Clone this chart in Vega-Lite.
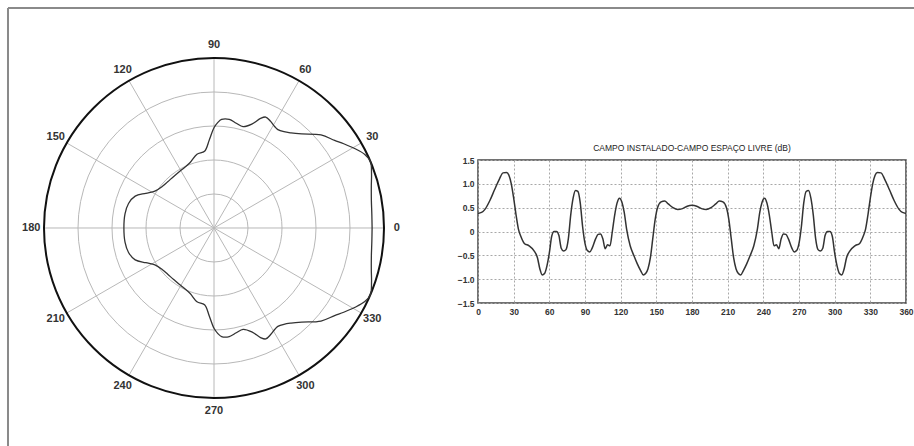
{
  "$schema": "https://vega.github.io/schema/vega-lite/v6.json",
  "padding": {"left": 6, "top": 7, "right": 0, "bottom": 0},
  "background": "white",
  "bounds": "flush",
  "center": true,
  "spacing": 94,
  "config": {"font": "Liberation Sans"},
  "hconcat": [
    {
      "width": 340,
      "height": 347,
      "view": {"stroke": null},
      "layer": [
        {
          "data": {"values": [{"a": 0}, {"a": 30}, {"a": 60}, {"a": 90}, {"a": 120}, {"a": 150}]},
          "transform": [
            {"calculate": "cos(datum.a * PI / 180)", "as": "cx"},
            {"calculate": "sin(datum.a * PI / 180)", "as": "cy"},
            {"calculate": "-datum.cx", "as": "nx"},
            {"calculate": "-datum.cy", "as": "ny"}
          ],
          "mark": {"type": "rule", "stroke": "#b8b8b8", "strokeWidth": 1},
          "encoding": {
            "x": {"field": "cx", "type": "quantitative", "scale": {"domain": [-1, 1], "nice": false, "zero": false}, "axis": null},
            "y": {"field": "cy", "type": "quantitative", "scale": {"domain": [-1.0412, 1], "nice": false, "zero": false}, "axis": null},
            "x2": {"field": "nx"},
            "y2": {"field": "ny"}
          }
        },
        {
          "data": {"values": [{"r": 0.2}, {"r": 0.4}, {"r": 0.6}, {"r": 0.8}, {"r": 1.0}]},
          "transform": [
            {"calculate": "0 * datum.r", "as": "ox"},
            {"calculate": "datum.r == 1 ? 'outer' : 'ring'", "as": "kind"}
          ],
          "mark": {"type": "point", "shape": "circle", "filled": false, "opacity": 1},
          "encoding": {
            "x": {"field": "ox", "type": "quantitative", "axis": null},
            "y": {"field": "ox", "type": "quantitative", "axis": null},
            "size": {"field": "r", "type": "quantitative", "scale": {"type": "pow", "exponent": 2, "domain": [0, 1], "range": [0, 115600], "zero": true}, "legend": null},
            "stroke": {"field": "kind", "type": "nominal", "scale": {"domain": ["ring", "outer"], "range": ["#b8b8b8", "#111111"]}, "legend": null},
            "strokeWidth": {"field": "kind", "type": "nominal", "scale": {"domain": ["ring", "outer"], "range": [1, 2]}, "legend": null}
          }
        },
        {
          "data": {"values": [
            {"a": 0, "r": 0.93}, {"a": 5, "r": 0.932}, {"a": 10, "r": 0.94}, {"a": 15, "r": 0.958}, {"a": 19, "r": 0.98},
            {"a": 23, "r": 1.0}, {"a": 26, "r": 0.987}, {"a": 29.5, "r": 0.95}, {"a": 33, "r": 0.91}, {"a": 36, "r": 0.877},
            {"a": 41, "r": 0.834}, {"a": 47, "r": 0.757}, {"a": 51, "r": 0.72}, {"a": 54, "r": 0.70}, {"a": 57, "r": 0.69},
            {"a": 59, "r": 0.695}, {"a": 62, "r": 0.71}, {"a": 65, "r": 0.72}, {"a": 67, "r": 0.70}, {"a": 70, "r": 0.65},
            {"a": 74, "r": 0.62}, {"a": 78, "r": 0.63}, {"a": 82, "r": 0.645}, {"a": 86, "r": 0.64}, {"a": 88, "r": 0.62},
            {"a": 90, "r": 0.59}, {"a": 93, "r": 0.52}, {"a": 97, "r": 0.455}, {"a": 103, "r": 0.445}, {"a": 110, "r": 0.41},
            {"a": 117, "r": 0.394}, {"a": 121, "r": 0.39}, {"a": 128, "r": 0.385}, {"a": 135, "r": 0.385}, {"a": 141, "r": 0.39},
            {"a": 148, "r": 0.41}, {"a": 153, "r": 0.45}, {"a": 158, "r": 0.50}, {"a": 164, "r": 0.523}, {"a": 171, "r": 0.53},
            {"a": 180, "r": 0.53}, {"a": 189, "r": 0.53}, {"a": 196, "r": 0.523}, {"a": 202, "r": 0.50}, {"a": 207, "r": 0.45},
            {"a": 212, "r": 0.41}, {"a": 219, "r": 0.39}, {"a": 225, "r": 0.385}, {"a": 232, "r": 0.385}, {"a": 239, "r": 0.39},
            {"a": 243, "r": 0.394}, {"a": 250, "r": 0.41}, {"a": 257, "r": 0.445}, {"a": 263, "r": 0.455}, {"a": 267, "r": 0.52},
            {"a": 270, "r": 0.59}, {"a": 272, "r": 0.62}, {"a": 274, "r": 0.64}, {"a": 278, "r": 0.645}, {"a": 282, "r": 0.63},
            {"a": 286, "r": 0.62}, {"a": 290, "r": 0.65}, {"a": 293, "r": 0.70}, {"a": 295, "r": 0.72}, {"a": 298, "r": 0.71},
            {"a": 301, "r": 0.695}, {"a": 303, "r": 0.69}, {"a": 306, "r": 0.70}, {"a": 309, "r": 0.72}, {"a": 313, "r": 0.757},
            {"a": 319, "r": 0.834}, {"a": 324, "r": 0.877}, {"a": 327, "r": 0.91}, {"a": 330.5, "r": 0.95}, {"a": 334, "r": 0.987},
            {"a": 337, "r": 1.0}, {"a": 341, "r": 0.98}, {"a": 345, "r": 0.958}, {"a": 350, "r": 0.94}, {"a": 355, "r": 0.932},
            {"a": 360, "r": 0.93}
          ]},
          "transform": [
            {"calculate": "datum.r * cos(datum.a * PI / 180)", "as": "px"},
            {"calculate": "datum.r * sin(datum.a * PI / 180)", "as": "py"}
          ],
          "mark": {"type": "line", "stroke": "#333333", "strokeWidth": 1.3, "interpolate": "catmull-rom"},
          "encoding": {
            "x": {"field": "px", "type": "quantitative", "axis": null},
            "y": {"field": "py", "type": "quantitative", "axis": null},
            "order": {"field": "a", "type": "quantitative"}
          }
        },
        {
          "data": {"values": [
            {"a": 0, "t": "0"}, {"a": 30, "t": "30"}, {"a": 60, "t": "60"}, {"a": 90, "t": "90"},
            {"a": 120, "t": "120"}, {"a": 150, "t": "150"}, {"a": 180, "t": "180"}, {"a": 210, "t": "210"},
            {"a": 240, "t": "240"}, {"a": 270, "t": "270"}, {"a": 300, "t": "300"}, {"a": 330, "t": "330"}
          ]},
          "transform": [
            {"calculate": "1.075 * cos(datum.a * PI / 180)", "as": "lx"},
            {"calculate": "1.075 * sin(datum.a * PI / 180)", "as": "ly"}
          ],
          "mark": {"type": "text", "fontSize": 11, "fontWeight": "bold", "color": "#333333", "align": "center", "baseline": "middle", "font": "Liberation Sans"},
          "encoding": {
            "x": {"field": "lx", "type": "quantitative", "axis": null},
            "y": {"field": "ly", "type": "quantitative", "axis": null},
            "text": {"field": "t"}
          }
        },
        {
          "data": {"values": [{"k": "frame"}]},
          "mark": {"type": "rule", "stroke": "#8a8a8a", "strokeWidth": 2},
          "encoding": {
            "x": {"datum": -1.2118, "type": "quantitative", "axis": null},
            "y": {"datum": 1.2941, "type": "quantitative", "axis": null},
            "y2": {"datum": -1.35}
          }
        },
        {
          "data": {"values": [{"k": "frame"}]},
          "mark": {"type": "rule", "stroke": "#8a8a8a", "strokeWidth": 2},
          "encoding": {
            "x": {"datum": -1.2118, "type": "quantitative", "axis": null},
            "x2": {"datum": 4.2},
            "y": {"datum": 1.2941, "type": "quantitative", "axis": null}
          }
        }
      ]
    },
    {
      "width": 428,
      "height": 143,
      "view": {"stroke": "#444444", "strokeWidth": 1.5},
      "title": {"text": "CAMPO INSTALADO-CAMPO ESPAÇO LIVRE (dB)", "fontSize": 8.5, "font": "Liberation Sans", "fontWeight": "normal", "color": "#222222", "offset": 4, "frame": "group"},
      "data": {"values": [
        {"a": 0, "v": 0.38}, {"a": 3, "v": 0.40}, {"a": 6, "v": 0.47}, {"a": 10, "v": 0.65}, {"a": 14, "v": 0.88},
        {"a": 18, "v": 1.10}, {"a": 21, "v": 1.23}, {"a": 24, "v": 1.24}, {"a": 26, "v": 1.18}, {"a": 28, "v": 1.0},
        {"a": 30, "v": 0.70}, {"a": 32, "v": 0.35}, {"a": 34, "v": 0.05}, {"a": 36, "v": -0.10}, {"a": 39, "v": -0.25},
        {"a": 43, "v": -0.30}, {"a": 47, "v": -0.40}, {"a": 50, "v": -0.55}, {"a": 52, "v": -0.78}, {"a": 54, "v": -0.91},
        {"a": 56, "v": -0.88}, {"a": 58, "v": -0.72}, {"a": 60, "v": -0.45}, {"a": 62, "v": -0.10}, {"a": 64, "v": 0.0},
        {"a": 66, "v": 0.0}, {"a": 68, "v": -0.08}, {"a": 70, "v": -0.35}, {"a": 72, "v": -0.41}, {"a": 74, "v": -0.38},
        {"a": 76, "v": -0.15}, {"a": 78, "v": 0.35}, {"a": 80, "v": 0.70}, {"a": 82, "v": 0.86}, {"a": 84, "v": 0.84},
        {"a": 86, "v": 0.60}, {"a": 88, "v": 0.10}, {"a": 90, "v": -0.25}, {"a": 92, "v": -0.40}, {"a": 94, "v": -0.43},
        {"a": 96, "v": -0.35}, {"a": 99, "v": -0.15}, {"a": 101, "v": -0.06}, {"a": 103, "v": -0.05}, {"a": 105, "v": -0.15},
        {"a": 107, "v": -0.36}, {"a": 109, "v": -0.28}, {"a": 111, "v": -0.30}, {"a": 113, "v": 0.0}, {"a": 115, "v": 0.35},
        {"a": 117, "v": 0.60}, {"a": 119, "v": 0.70}, {"a": 121, "v": 0.62}, {"a": 123, "v": 0.40}, {"a": 125, "v": 0.05},
        {"a": 128, "v": -0.30}, {"a": 131, "v": -0.50}, {"a": 134, "v": -0.68}, {"a": 137, "v": -0.83}, {"a": 139, "v": -0.91},
        {"a": 141, "v": -0.88}, {"a": 143, "v": -0.78}, {"a": 145, "v": -0.55}, {"a": 147, "v": -0.15}, {"a": 149, "v": 0.25},
        {"a": 151, "v": 0.50}, {"a": 154, "v": 0.62}, {"a": 157, "v": 0.64}, {"a": 160, "v": 0.58}, {"a": 164, "v": 0.50},
        {"a": 168, "v": 0.46}, {"a": 172, "v": 0.48}, {"a": 176, "v": 0.53}, {"a": 180, "v": 0.55}, {"a": 184, "v": 0.53},
        {"a": 188, "v": 0.48}, {"a": 192, "v": 0.46}, {"a": 196, "v": 0.50}, {"a": 200, "v": 0.58}, {"a": 203, "v": 0.64},
        {"a": 206, "v": 0.62}, {"a": 209, "v": 0.50}, {"a": 211, "v": 0.25}, {"a": 213, "v": -0.15}, {"a": 215, "v": -0.55},
        {"a": 217, "v": -0.78}, {"a": 219, "v": -0.88}, {"a": 221, "v": -0.91}, {"a": 223, "v": -0.83}, {"a": 226, "v": -0.68},
        {"a": 229, "v": -0.50}, {"a": 232, "v": -0.30}, {"a": 235, "v": 0.05}, {"a": 237, "v": 0.40}, {"a": 239, "v": 0.62},
        {"a": 241, "v": 0.70}, {"a": 243, "v": 0.60}, {"a": 245, "v": 0.35}, {"a": 247, "v": 0.0}, {"a": 249, "v": -0.30},
        {"a": 251, "v": -0.28}, {"a": 253, "v": -0.36}, {"a": 255, "v": -0.15}, {"a": 257, "v": -0.05}, {"a": 259, "v": -0.06},
        {"a": 261, "v": -0.15}, {"a": 264, "v": -0.35}, {"a": 266, "v": -0.43}, {"a": 268, "v": -0.40}, {"a": 270, "v": -0.25},
        {"a": 272, "v": 0.10}, {"a": 274, "v": 0.60}, {"a": 276, "v": 0.84}, {"a": 278, "v": 0.86}, {"a": 280, "v": 0.70},
        {"a": 282, "v": 0.35}, {"a": 284, "v": -0.15}, {"a": 286, "v": -0.38}, {"a": 288, "v": -0.41}, {"a": 290, "v": -0.35},
        {"a": 292, "v": -0.08}, {"a": 294, "v": 0.0}, {"a": 296, "v": 0.0}, {"a": 298, "v": -0.10}, {"a": 300, "v": -0.45},
        {"a": 302, "v": -0.72}, {"a": 304, "v": -0.88}, {"a": 306, "v": -0.91}, {"a": 308, "v": -0.78}, {"a": 310, "v": -0.55},
        {"a": 313, "v": -0.40}, {"a": 317, "v": -0.30}, {"a": 321, "v": -0.25}, {"a": 324, "v": -0.10}, {"a": 326, "v": 0.05},
        {"a": 328, "v": 0.35}, {"a": 330, "v": 0.70}, {"a": 332, "v": 1.0}, {"a": 334, "v": 1.18}, {"a": 336, "v": 1.24},
        {"a": 339, "v": 1.23}, {"a": 342, "v": 1.10}, {"a": 346, "v": 0.88}, {"a": 350, "v": 0.65}, {"a": 354, "v": 0.47},
        {"a": 357, "v": 0.40}, {"a": 360, "v": 0.38}
      ]},
      "mark": {"type": "line", "stroke": "#333333", "strokeWidth": 1.5, "interpolate": "monotone"},
      "encoding": {
        "x": {
          "field": "a", "type": "quantitative",
          "scale": {"domain": [0, 360], "nice": false, "zero": false},
          "axis": {"values": [0, 30, 60, 90, 120, 150, 180, 210, 240, 270, 300, 330, 360], "title": null, "grid": true, "gridDash": [2, 2], "gridColor": "#a8a8a8", "gridWidth": 1, "domain": false, "ticks": false, "labelFontSize": 8.5, "labelFontWeight": "bold", "labelColor": "#333333", "labelPadding": 4, "labelFont": "Liberation Sans", "labelFlush": false}
        },
        "y": {
          "field": "v", "type": "quantitative",
          "scale": {"domain": [-1.5, 1.5], "nice": false, "zero": false},
          "axis": {"values": [-1.5, -1, -0.5, 0, 0.5, 1, 1.5], "labelExpr": "datum.value == 0 ? '0' : format(datum.value, '.1f')", "title": null, "grid": true, "gridDash": [2, 2], "gridColor": "#a8a8a8", "gridWidth": 1, "domain": false, "ticks": false, "labelFontSize": 8.5, "labelFontWeight": "bold", "labelColor": "#333333", "labelPadding": 4, "labelFont": "Liberation Sans", "labelFlush": false}
        }
      }
    }
  ]
}
